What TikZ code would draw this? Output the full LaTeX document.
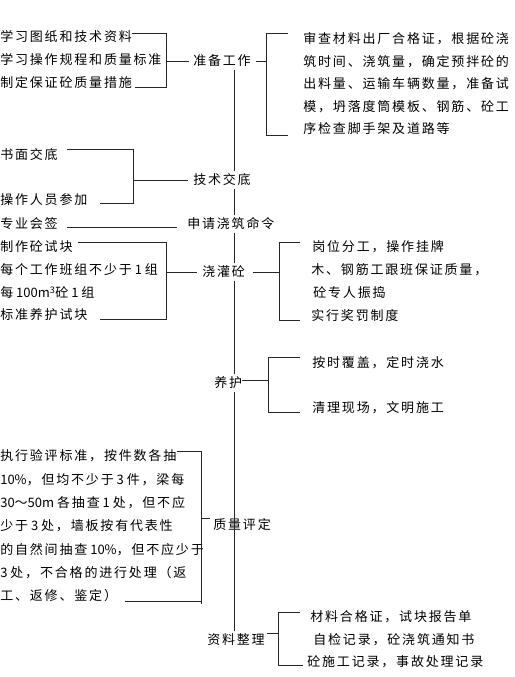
\documentclass[tikz,border=0pt]{standalone}
\usepackage{fontspec}
\newfontfamily\cjkfam[LetterSpace=14]{Noto Sans CJK SC}
\newfontfamily\latfam{Noto Sans CJK SC}
\newcommand\lat[1]{{\latfam #1}}
\usetikzlibrary{calc}
\begin{document}
\begin{tikzpicture}[x=1pt, y=-1pt, line width=0.6pt, draw=black!85,
  item/.style={anchor=west, inner sep=0pt, text=black, font=\cjkfam\fontsize{13pt}{15pt}\selectfont},
  stage/.style={item, inner ysep=3pt}]
  \useasboundingbox (0,0) rectangle (514,677);
  \coordinate (sp) at (234,0);

  \node[stage] (prep) at (193,61) {准备工作};
  \node[stage] (tech) at (193,180) {技术交底};
  \node[stage] (apply) at (187,224) {申请浇筑命令};
  \node[stage] (pour) at (202,272) {浇灌砼};
  \node[stage] (cure) at (214,383) {养护};
  \node[item] (qual) at (213,525) {质量评定};
  \node[stage] (docs) at (207,640) {资料整理};

  \draw (prep.south -| sp) -- (tech.north -| sp);
  \draw (tech.south -| sp) -- (apply.north -| sp);
  \draw (apply.south -| sp) -- (pour.north -| sp);
  \draw (pour.south -| sp) -- (cure.north -| sp);
  \draw (cure.south -| sp) -- (docs.north -| sp);

  \node[item] (a1) at (0,37) {学习图纸和技术资料};
  \node[item] (a2) at (0,60) {学习操作规程和质量标准};
  \node[item] (a3) at (0,83) {制定保证砼质量措施};
  \coordinate (at) at (166,33);
  \coordinate (ab) at (166,87);
  \draw (a1.east |- at) -- (at) -- (ab) -- ([xshift=3pt]a3.east |- ab);
  \draw (at |- prep) -- ([xshift=-4pt]prep.west);

  \node[item] (b1) at (303,39) {审查材料出厂合格证，根据砼浇};
  \node[item] (b2) at (303,61.5) {筑时间、浇筑量，确定预拌砼的};
  \node[item] (b3) at (303,84) {出料量、运输车辆数量，准备试};
  \node[item] (b4) at (303,106.5) {模，坍落度筒模板、钢筋、砼工};
  \node[item] (b5) at (303,129) {序检查脚手架及道路等};
  \coordinate (bt) at (266,33);
  \coordinate (bb) at (266,135);
  \draw ([xshift=-15pt]b1.west |- bt) -- (bt) -- (bb) -- ([xshift=-15pt]b5.west |- bb);
  \draw ([xshift=5pt]prep.east) -- (bt |- prep);

  \node[item] (c1) at (0,155) {书面交底};
  \node[item] (c2) at (0,200) {操作人员参加};
  \coordinate (ct) at (133,149);
  \coordinate (cb) at (133,203);
  \draw ([xshift=9pt]c1.east |- ct) -- (ct) -- (cb) -- ([xshift=12pt]c2.east |- cb);
  \draw (ct |- tech) -- ([xshift=-5pt]tech.west);

  \node[item] (d1) at (0,224) {专业会签};
  \draw ([xshift=9pt]d1.east |- 0,227) -- ([xshift=-10pt]apply.west |- 0,227);

  \node[item] (e1) at (0,247) {制作砼试块};
  \node[item] (e2) at (0,270) {每个工作班组不少于\lat{ 1 }组};
  \node[item] (e3) at (0,293) {每\lat{ 100m\textsuperscript{3}}砼\lat{ 1 }组};
  \node[item] (e4) at (0,315) {标准养护试块};
  \coordinate (et) at (166,242);
  \coordinate (eb) at (166,319);
  \draw ([xshift=5pt]e1.east |- et) -- (et) -- (eb) -- ([xshift=12pt]e4.east |- eb);
  \draw (et |- pour) -- ([xshift=-5pt]pour.west);

  \node[item] (f1) at (312,247) {岗位分工，操作挂牌};
  \node[item] (f2) at (311,270) {木、钢筋工跟班保证质量，};
  \node[item] (f3) at (313,293) {砼专人振捣};
  \node[item] (f4) at (311,316) {实行奖罚制度};
  \coordinate (ft) at (279,242);
  \coordinate (fb) at (279,320);
  \draw ([xshift=-12pt]f1.west |- ft) -- (ft) -- (fb) -- ([xshift=-11pt]f4.west |- fb);
  \draw ([xshift=8pt]pour.east) -- (ft |- pour);

  \node[item] (g1) at (312,363) {按时覆盖，定时浇水};
  \node[item] (g2) at (312,408) {清理现场，文明施工};
  \coordinate (gt) at (268,357);
  \coordinate (gb) at (268,412);
  \draw ([xshift=-12pt]g1.west |- gt) -- (gt) -- (gb) -- ([xshift=-12pt]g2.west |- gb);
  \draw ([yshift=3pt]cure.east) -- (gt |- 0,380);

  \node[item] (h1) at (0,456) {执行验评标准，按件数各抽};
  \node[item] (h2) at (0,479.3) {\lat{10\%}，但均不少于\lat{ 3 }件，梁每};
  \node[item] (h3) at (0,502.6) {\lat{30}～\lat{50m }各抽查\lat{ 1 }处，但不应};
  \node[item] (h4) at (0,525.9) {少于\lat{ 3 }处，墙板按有代表性};
  \node[item] (h5) at (0,549.2) {的自然间抽查\lat{ 10\%}，但不应少于};
  \node[item] (h6) at (0,572.5) {\lat{3 }处，不合格的进行处理（返};
  \node[item] (h7) at (0,595.8) {工、返修、鉴定）};
  \coordinate (ht) at (201,451);
  \coordinate (hb) at (201,601);
  \draw (h1.east |- ht) -- (ht) -- ([yshift=-3pt]hb);
  \draw ([xshift=8pt]h7.east |- hb) -- (hb);
  \draw (ht |- 0,518) -- ([xshift=-3pt]qual.west |- 0,518);

  \node[item] (k1) at (310,617) {材料合格证，试块报告单};
  \node[item] (k2) at (313,640) {自检记录，砼浇筑通知书};
  \node[item] (k3) at (307,662) {砼施工记录，事故处理记录};
  \coordinate (kt) at (278,612);
  \coordinate (kb) at (278,665);
  \draw ([xshift=-10pt]k1.west |- kt) -- (kt) -- (kb) -- ([xshift=-4pt]k3.west |- kb);
  \draw ([xshift=2pt,yshift=7pt]docs.east) -- (kt |- 0,633);
\end{tikzpicture}
\end{document}
